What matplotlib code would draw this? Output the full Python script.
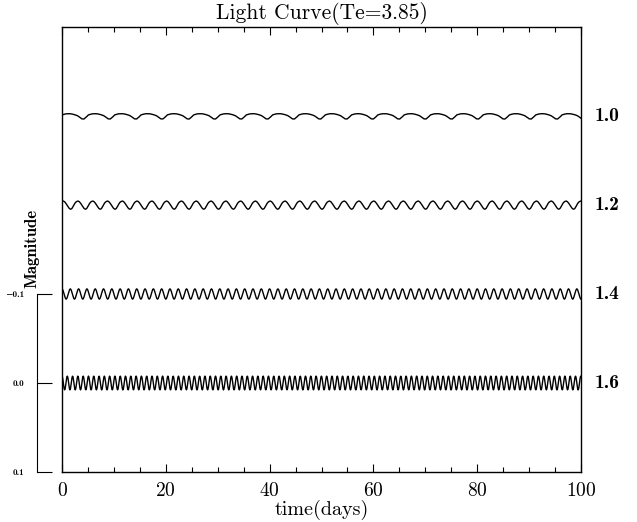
import numpy as np
import matplotlib.pyplot as plt
from matplotlib.ticker import MultipleLocator

plt.rcParams['font.family'] = ['cmr10', 'DejaVu Serif']
plt.rcParams['axes.formatter.use_mathtext'] = True

# light curves for four inclinations, shifted apart by 0.1 mag
labels = ['1.0', '1.2', '1.4', '1.6']
offsets = [-0.3, -0.2, -0.1, 0.0]
periods = [5.07, 2.85, 1.60, 1.02]          # days
# one cycle of each curve, in magnitudes (positive = fainter)
shape_1 = [-0.0012, -0.0020, -0.0025, -0.0026, -0.0025, -0.0020, -0.0013,
           -0.0004, 0.0012, 0.0032, 0.0034, 0.0014]
shape_2 = [-0.0040, -0.0045, -0.0038, -0.0022, 0.0000, 0.0022, 0.0040,
           0.0048, 0.0040, 0.0018, -0.0010, -0.0030]
shape_3 = [-0.0058, -0.0050, -0.0028, 0.0000, 0.0028, 0.0050, 0.0058,
           0.0050, 0.0028, 0.0000, -0.0028, -0.0050]
shape_4 = [-0.0078, -0.0068, -0.0040, 0.0000, 0.0040, 0.0068, 0.0078,
           0.0068, 0.0040, 0.0000, -0.0040, -0.0068]
shapes = [shape_1, shape_2, shape_3, shape_4]

t = np.linspace(0, 100, 4000)

fig = plt.figure(figsize=(6.37, 5.22), dpi=100)
ax = fig.add_axes([62/637, 1 - 472/522, (581 - 62)/637, (472 - 27)/522])

for off, per, shp in zip(offsets, periods, shapes):
    shp = np.array(shp)
    ph = np.linspace(0, 1, len(shp) + 1)
    cyc = np.append(shp, shp[0])
    mag = off + np.interp((t / per) % 1.0, ph, cyc)
    ax.plot(t, mag, color='black', lw=1.0)

ax.set_xlim(0, 100)
ax.set_ylim(0.1, -0.4)
ax.xaxis.set_major_locator(MultipleLocator(20))
ax.xaxis.set_minor_locator(MultipleLocator(5))
ax.tick_params(axis='x', which='both', direction='in', top=True, bottom=True,
               labelsize=14, pad=7)
ax.tick_params(axis='x', which='major', length=6, width=0.8)
ax.tick_params(axis='x', which='minor', length=3.5, width=0.8)
ax.tick_params(axis='y', left=False, labelleft=False)
for s in ax.spines.values():
    s.set_linewidth(1.0)

ax.set_title('Light Curve(Te=3.85)', fontsize=15.5, pad=6)
ax.set_xlabel('time(days)', fontsize=14.5, labelpad=0)

for off, lab in zip(offsets, labels):
    ax.text(1.027, off, lab, transform=ax.get_yaxis_transform(),
            ha='left', va='center', fontsize=14, family=['cmb10', 'DejaVu Serif'])

# separate magnitude scale bar on the left
bar = fig.add_axes([37/637, 1 - 472/522, 0.001, (472 - 27)/522], sharey=ax)
bar.set_facecolor('none')
for k in ['top', 'right', 'bottom']:
    bar.spines[k].set_visible(False)
bar.spines['left'].set_bounds(-0.1, 0.1)
bar.set_yticks([-0.1, 0.0, 0.1])
bar.set_yticklabels(['−0.1', '0.0', '0.1'])
bar.set_xticks([])
bar.tick_params(axis='y', direction='in', length=11, width=0.8, labelsize=6.5, pad=9)
for lbl in bar.get_yticklabels():
    lbl.set_fontfamily(['cmb10', 'DejaVu Sans'])
fig.text(32/637, 1 - 248/522, 'Magnitude', rotation=90, ha='center', va='center',
         fontsize=12, family=['cmb10', 'DejaVu Serif'])

fig.savefig('out.png', dpi=100)
